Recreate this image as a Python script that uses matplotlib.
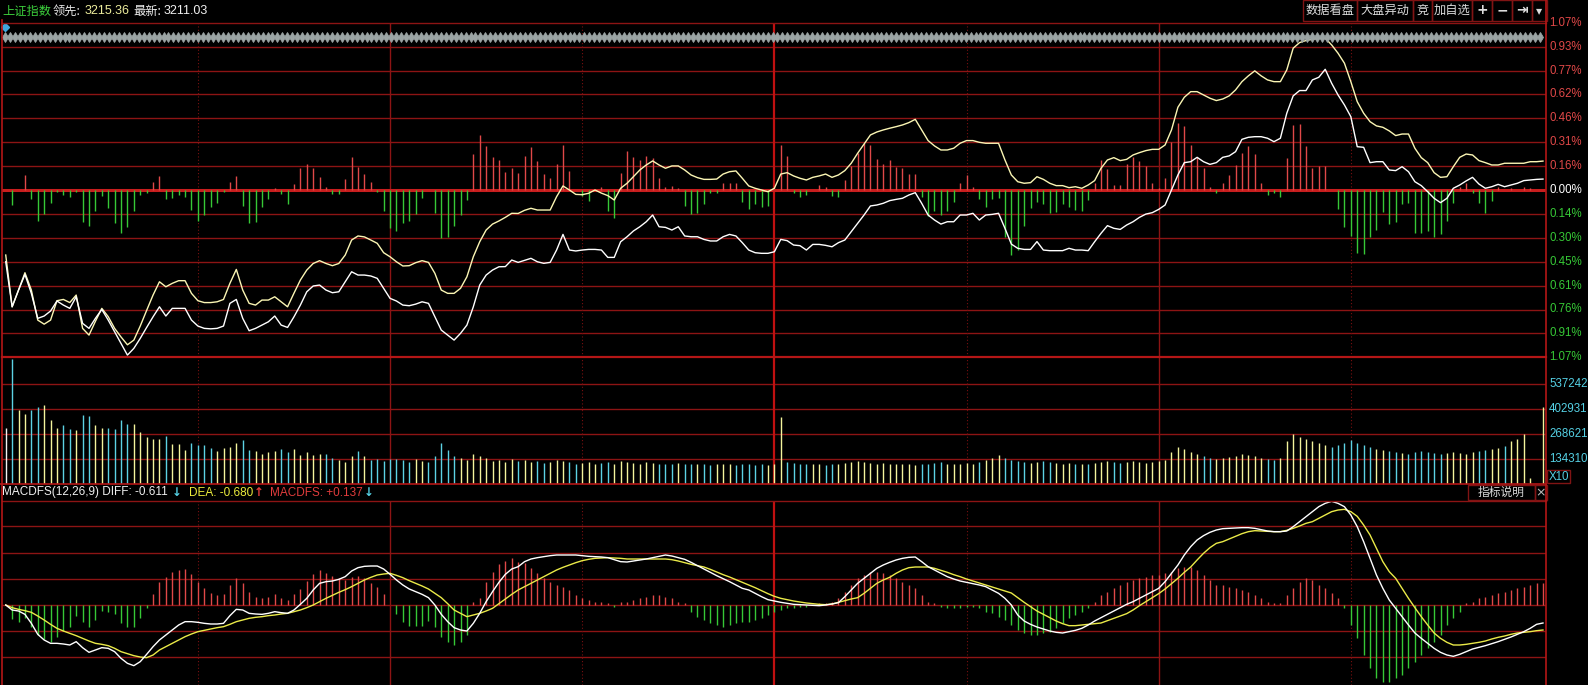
import numpy as np
import matplotlib.pyplot as plt
from matplotlib.patches import Rectangle
from matplotlib.lines import Line2D
from matplotlib.transforms import blended_transform_factory as blend

plt.rcParams['font.family'] = ['Noto Sans CJK SC', 'DejaVu Sans']

# ---- data (one value per minute, 9:30 .. 15:00) ----
# 领先指标 line, % change
lead_pct = [
    -0.416, -0.747, -0.64, -0.529, -0.64, -0.832, -0.858, -0.832, -0.708, -0.70,
    -0.72, -0.672, -0.885, -0.928, -0.84, -0.757, -0.81, -0.885, -0.94, -0.99,
    -0.96, -0.87, -0.77, -0.672, -0.587, -0.619, -0.597, -0.58, -0.58, -0.661,
    -0.708, -0.72, -0.72, -0.715, -0.70, -0.597, -0.508, -0.64, -0.725, -0.736,
    -0.704, -0.704, -0.683, -0.715, -0.747, -0.66, -0.576, -0.512, -0.47, -0.452,
    -0.47, -0.484, -0.47, -0.416, -0.32, -0.294, -0.30, -0.32, -0.341, -0.401,
    -0.427, -0.459, -0.486, -0.484, -0.465, -0.452, -0.463, -0.533, -0.64, -0.661,
    -0.661, -0.629, -0.555, -0.427, -0.331, -0.256, -0.218, -0.198, -0.175, -0.149,
    -0.15, -0.13, -0.117, -0.128, -0.128, -0.128, -0.043, 0.026, 0.0, -0.028,
    -0.03, -0.021, 0.0, -0.02, -0.036, -0.064, 0.011, 0.043, 0.085, 0.128,
    0.16, 0.186, 0.16, 0.139, 0.154, 0.154, 0.128, 0.096, 0.079, 0.068,
    0.068, 0.07, 0.102, 0.117, 0.122, 0.075, 0.026, 0.011, 0.0, -0.011,
    0.011, 0.102, 0.111, 0.09, 0.075, 0.064, 0.081, 0.09, 0.102, 0.081,
    0.096, 0.124, 0.171, 0.235, 0.294, 0.352, 0.371, 0.384, 0.395, 0.405,
    0.416, 0.431, 0.452, 0.384, 0.316, 0.282, 0.256, 0.256, 0.267, 0.299,
    0.316, 0.316, 0.305, 0.299, 0.299, 0.299, 0.192, 0.096, 0.053, 0.043,
    0.047, 0.085, 0.068, 0.043, 0.028, 0.028, 0.015, 0.021, 0.011, 0.032,
    0.06, 0.139, 0.192, 0.207, 0.188, 0.196, 0.224, 0.239, 0.252, 0.26,
    0.26, 0.288, 0.384, 0.529, 0.593, 0.629, 0.629, 0.608, 0.587, 0.572,
    0.582, 0.602, 0.64, 0.693, 0.73, 0.762, 0.73, 0.704, 0.693, 0.693,
    0.768, 0.907, 0.943, 0.956, 0.964, 0.971, 0.971, 0.928, 0.875, 0.811,
    0.693, 0.565, 0.491, 0.437, 0.41, 0.401, 0.378, 0.348, 0.358, 0.358,
    0.267, 0.207, 0.175, 0.111, 0.081, 0.085, 0.149, 0.209, 0.23, 0.224,
    0.188, 0.175, 0.16, 0.16, 0.171, 0.171, 0.171, 0.171, 0.181, 0.181,
    0.185,
]

# 上证指数 line, % change
index_pct = [
    -0.459, -0.747, -0.64, -0.54, -0.661, -0.821, -0.806, -0.774, -0.71, -0.736,
    -0.757, -0.683, -0.853, -0.885, -0.821, -0.764, -0.832, -0.907, -0.981, -1.056,
    -1.013, -0.949, -0.879, -0.811, -0.747, -0.806, -0.757, -0.757, -0.757, -0.832,
    -0.87, -0.885, -0.888, -0.885, -0.87, -0.725, -0.70, -0.821, -0.90, -0.885,
    -0.864, -0.843, -0.806, -0.864, -0.879, -0.811, -0.736, -0.651, -0.614, -0.608,
    -0.64, -0.657, -0.651, -0.587, -0.523, -0.544, -0.544, -0.55, -0.565, -0.629,
    -0.693, -0.71, -0.736, -0.74, -0.73, -0.715, -0.725, -0.811, -0.896, -0.928,
    -0.96, -0.917, -0.864, -0.747, -0.608, -0.544, -0.512, -0.491, -0.49, -0.448,
    -0.463, -0.45, -0.437, -0.459, -0.469, -0.463, -0.384, -0.284, -0.384, -0.39,
    -0.384, -0.38, -0.38, -0.384, -0.431, -0.431, -0.331, -0.299, -0.262, -0.235,
    -0.203, -0.16, -0.235, -0.239, -0.256, -0.235, -0.294, -0.299, -0.299, -0.316,
    -0.326, -0.326, -0.299, -0.284, -0.294, -0.337, -0.384, -0.401, -0.405, -0.405,
    -0.395, -0.316, -0.324, -0.352, -0.356, -0.384, -0.348, -0.348, -0.354, -0.363,
    -0.337, -0.32, -0.267, -0.213, -0.16, -0.102, -0.096, -0.085, -0.068, -0.06,
    -0.053, -0.032, -0.017, -0.085, -0.16, -0.192, -0.218, -0.203, -0.203, -0.16,
    -0.16, -0.149, -0.192, -0.16, -0.156, -0.149, -0.245, -0.346, -0.373, -0.38,
    -0.38, -0.33, -0.384, -0.388, -0.388, -0.388, -0.373, -0.384, -0.384, -0.388,
    -0.331, -0.277, -0.228, -0.245, -0.252, -0.224, -0.203, -0.175, -0.154, -0.145,
    -0.124, -0.096, 0.0, 0.096, 0.175, 0.181, 0.209, 0.181, 0.164, 0.175,
    0.209, 0.218, 0.245, 0.324, 0.337, 0.341, 0.341, 0.331, 0.309, 0.331,
    0.491, 0.602, 0.636, 0.636, 0.704, 0.721, 0.772, 0.683, 0.608, 0.544,
    0.469, 0.277, 0.273, 0.175, 0.181, 0.181, 0.128, 0.124, 0.149, 0.117,
    0.053, 0.028, -0.011, -0.053, -0.081, -0.053, 0.011, 0.032, 0.058, 0.081,
    0.038, 0.011, 0.021, 0.036, 0.021, 0.032, 0.043, 0.06, 0.064, 0.068,
    0.07,
]

# red / green strength bars in the price panel
lead_bar = [
    0, -0.096, 0, 0.096, -0.055, -0.196, -0.156, -0.081, -0.011, -0.032,
    -0.043, -0.011, -0.203, -0.23, -0.132, -0.038, -0.113, -0.209, -0.273, -0.235,
    -0.132, -0.03, -0.021, 0.053, 0.09, -0.058, -0.049, -0.032, -0.043, -0.128,
    -0.196, -0.158, -0.107, -0.081, -0.013, 0.053, 0.09, -0.102, -0.209, -0.203,
    -0.107, -0.058, 0.011, -0.028, -0.09, 0.038, 0.139, 0.166, 0.139, 0.081,
    0.021, -0.026, -0.028, 0.07, 0.209, 0.149, 0.102, 0.053, -0.013, -0.132,
    -0.241, -0.26, -0.213, -0.196, -0.156, -0.053, 0, -0.149, -0.309, -0.299,
    -0.23, -0.16, -0.064, 0.23, 0.352, 0.282, 0.209, 0.192, 0.117, 0.139,
    0.107, 0.218, 0.277, 0.186, 0.102, 0.075, 0.166, 0.288, 0.124, 0,
    -0.036, -0.068, 0, 0.017, -0.132, -0.177, 0.107, 0.252, 0.213, 0.192,
    0.218, 0.203, 0.079, 0.017, 0.026, 0.011, -0.102, -0.156, -0.149, -0.09,
    -0.017, -0.017, 0.047, 0.047, 0.047, -0.075, -0.122, -0.09, -0.111, -0.102,
    0, 0.288, 0.22, -0.017, -0.043, -0.032, 0, 0.032, 0.017, -0.038,
    -0.047, 0.064, 0.154, 0.239, 0.299, 0.288, 0.198, 0.166, 0.192, 0.149,
    0.139, 0.102, 0.102, -0.043, -0.166, -0.134, -0.16, -0.132, -0.075, 0.043,
    0.096, 0.017, -0.06, -0.111, -0.06, -0.053, -0.299, -0.416, -0.384, -0.23,
    -0.117, -0.075, -0.09, -0.149, -0.139, -0.09, -0.111, -0.128, -0.132, -0.064,
    0.043, 0.192, 0.132, 0.032, 0.032, 0.166, 0.209, 0.188, 0.154, 0.047,
    0.015, 0.075, 0.309, 0.427, 0.41, 0.288, 0.213, 0.143, 0.021, -0.017,
    0.047, 0.096, 0.16, 0.239, 0.282, 0.228, 0.047, -0.032, -0.021, -0.043,
    0.203, 0.416, 0.422, 0.282, 0.139, 0.154, 0.154, 0, -0.124, -0.239,
    -0.294, -0.401, -0.41, -0.299, -0.256, -0.139, -0.218, -0.203, -0.092, -0.085,
    -0.277, -0.277, -0.26, -0.303, -0.282, -0.196, -0.085, 0.021, 0.043, -0.021,
    -0.081, -0.145, -0.068, 0.021, 0, 0.011, 0, 0.021, 0.011, 0,
    0,
]

# volume per minute, thousands (axis shown X10)
vol_k = [
    299, 671, 397, 376, 397, 412, 424, 344, 299, 317,
    294, 290, 371, 365, 317, 299, 302, 294, 344, 322,
    322, 278, 254, 240, 240, 258, 215, 215, 183, 222,
    210, 210, 192, 179, 195, 200, 222, 236, 183, 179,
    161, 174, 179, 188, 174, 188, 156, 170, 156, 161,
    161, 138, 129, 116, 150, 177, 150, 129, 134, 124,
    134, 134, 130, 120, 135, 125, 120, 150, 220, 185,
    150, 140, 130, 160, 150, 140, 125, 130, 120, 135,
    125, 130, 120, 125, 115, 120, 130, 125, 120, 110,
    115, 120, 110, 115, 120, 110, 125, 120, 115, 110,
    120, 115, 110, 105, 110, 115, 110, 105, 110, 105,
    100, 105, 110, 105, 100, 110, 105, 100, 105, 100,
    110, 358, 120, 115, 110, 105, 110, 105, 100, 105,
    110, 115, 120, 125, 120, 115, 110, 115, 110, 105,
    110, 105, 100, 105, 110, 115, 120, 110, 105, 110,
    115, 110, 120, 130, 140, 156, 140, 130, 125, 120,
    115, 120, 125, 120, 115, 110, 115, 110, 105, 110,
    115, 120, 125, 120, 115, 120, 125, 120, 115, 120,
    125, 130, 170, 200, 190, 170, 160, 150, 140, 135,
    140, 145, 150, 160, 155, 150, 140, 135, 130, 140,
    230, 270, 250, 240, 230, 220, 210, 200, 210, 220,
    236, 220, 210, 200, 190, 180, 175, 170, 165, 160,
    170, 175, 170, 165, 160, 165, 170, 165, 160, 170,
    175, 180, 190, 195, 204, 231, 240, 267, 31, 0,
    415,
]

# MACDFS(12,26,9)
macd_bar = [
    0, -0.42, -0.52, -0.40, -0.65, -0.9, -1.02, -1.1, -0.95, -0.78,
    -0.65, -0.32, -0.52, -0.65, -0.45, -0.18, -0.22, -0.28, -0.53, -0.65,
    -0.65, -0.40, -0.08, 0.33, 0.70, 0.85, 0.98, 1.05, 1.08, 0.92,
    0.68, 0.52, 0.35, 0.30, 0.32, 0.6, 0.82, 0.65, 0.38, 0.25,
    0.22, 0.25, 0.32, 0.22, 0.15, 0.32, 0.48, 0.72, 0.93, 1.05,
    0.95, 0.88, 0.8, 0.75, 0.85, 0.88, 0.8, 0.65, 0.55, 0.32,
    0, -0.28, -0.52, -0.62, -0.62, -0.62, -0.48, -0.65, -0.95, -1.1,
    -1.2, -1.1, -0.9, 0.08, 0.2, 0.68, 0.98, 1.22, 1.32, 1.4,
    1.3, 1.25, 1.1, 0.95, 0.8, 0.7, 0.6, 0.55, 0.45, 0.3,
    0.2, 0.15, 0.1, 0.08, 0.05, -0.05, 0.1, 0.1, 0.15, 0.2,
    0.25, 0.3, 0.3, 0.25, 0.2, 0.1, 0.05, -0.2, -0.35, -0.45,
    -0.55, -0.6, -0.65, -0.6, -0.55, -0.5, -0.5, -0.45, -0.4, -0.3,
    -0.2, -0.15, -0.1, -0.1, -0.05, -0.05, 0, 0.05, 0.05, 0.1,
    0.2, 0.4, 0.6, 0.8, 0.9, 1.0, 1.0, 0.95, 0.9, 0.8,
    0.7, 0.6, 0.5, 0.3, 0.1, 0.05, -0.05, -0.1, -0.1, -0.1,
    -0.05, -0.05, -0.1, -0.2, -0.25, -0.35, -0.45, -0.6, -0.75, -0.85,
    -0.9, -0.9, -0.85, -0.8, -0.7, -0.55, -0.4, -0.3, -0.2, -0.1,
    0.1, 0.3, 0.4, 0.5, 0.6, 0.7, 0.75, 0.8, 0.85, 0.9,
    0.9, 0.95, 1.0, 1.1, 1.15, 1.15, 1.05, 0.9, 0.75, 0.6,
    0.6, 0.55, 0.5, 0.45, 0.4, 0.3, 0.2, 0.1, 0.05, 0.05,
    0.3, 0.5, 0.7, 0.8, 0.75, 0.6, 0.5, 0.35, 0.2, -0.1,
    -0.6, -1.0, -1.5, -1.9, -2.2, -2.3, -2.3, -2.2, -2.1, -1.9,
    -1.7, -1.5, -1.3, -1.1, -0.9, -0.6, -0.4, -0.2, 0.05, 0.1,
    0.2, 0.25, 0.3, 0.35, 0.4, 0.45, 0.5, 0.55, 0.6, 0.65,
    0.65,
]

diff = [
    0, -0.15, -0.18, -0.28, -0.55, -0.88, -1.05, -1.15, -1.15, -1.17,
    -1.2, -1.1, -1.28, -1.42, -1.35, -1.28, -1.3, -1.4, -1.6, -1.75,
    -1.82, -1.7, -1.48, -1.25, -1.05, -0.9, -0.75, -0.6, -0.5, -0.5,
    -0.52, -0.55, -0.57, -0.57, -0.55, -0.32, -0.13, -0.15, -0.25, -0.27,
    -0.28, -0.25, -0.2, -0.23, -0.25, -0.15, 0.02, 0.2, 0.45, 0.65,
    0.7, 0.72, 0.77, 0.85, 1.02, 1.12, 1.16, 1.17, 1.17, 1.08,
    0.92, 0.75, 0.6, 0.48, 0.4, 0.32, 0.22, 0, -0.28, -0.5,
    -0.68, -0.75, -0.78, -0.55, -0.25, 0.1, 0.4, 0.68, 0.92, 1.08,
    1.15, 1.3, 1.38, 1.42, 1.45, 1.48, 1.5, 1.5, 1.5, 1.5,
    1.48, 1.46, 1.45, 1.44, 1.42, 1.36, 1.3, 1.29, 1.32, 1.35,
    1.38, 1.42, 1.46, 1.5, 1.47, 1.42, 1.37, 1.28, 1.18, 1.08,
    0.98, 0.88, 0.79, 0.7, 0.6, 0.5, 0.45, 0.35, 0.25, 0.16,
    0.12, 0.08, 0.05, 0.02, 0.01, 0, -0.01, -0.02, 0, 0.03,
    0.07, 0.25, 0.45, 0.65, 0.8, 0.95, 1.1, 1.2, 1.28, 1.35,
    1.4, 1.43, 1.44, 1.3, 1.15, 1.05, 0.95, 0.85, 0.78, 0.72,
    0.68, 0.64, 0.6, 0.55, 0.45, 0.35, 0.2, 0, -0.3, -0.48,
    -0.58, -0.66, -0.72, -0.78, -0.82, -0.84, -0.8, -0.76, -0.7, -0.6,
    -0.48, -0.38, -0.28, -0.18, -0.08, 0.02, 0.1, 0.2, 0.3, 0.4,
    0.5, 0.7, 0.95, 1.2, 1.5, 1.75, 1.95, 2.08, 2.18, 2.25,
    2.29, 2.3, 2.31, 2.32, 2.32, 2.3, 2.26, 2.22, 2.2, 2.2,
    2.22, 2.35, 2.5, 2.65, 2.8, 2.95, 3.05, 3.11, 3.05, 2.95,
    2.7, 2.35, 1.9, 1.4, 0.9, 0.5, 0.15, -0.1, -0.35, -0.6,
    -0.84, -1.0, -1.15, -1.3, -1.42, -1.5, -1.54, -1.48, -1.4, -1.32,
    -1.27, -1.22, -1.16, -1.1, -1.03, -0.96, -0.88, -0.8, -0.7, -0.58,
    -0.54,
]

dea = [
    0, -0.08, -0.13, -0.17, -0.22, -0.33, -0.45, -0.58, -0.7, -0.78,
    -0.85, -0.92, -1.0, -1.08, -1.15, -1.18, -1.22, -1.3, -1.4, -1.46,
    -1.52, -1.56, -1.58, -1.5, -1.35, -1.25, -1.15, -1.05, -0.95, -0.87,
    -0.8, -0.76, -0.72, -0.68, -0.65, -0.58, -0.5, -0.45, -0.4, -0.37,
    -0.35, -0.32, -0.3, -0.27, -0.25, -0.2, -0.15, -0.08, 0, 0.1,
    0.2, 0.29, 0.38, 0.46, 0.55, 0.65, 0.75, 0.83, 0.9, 0.93,
    0.95, 0.89, 0.82, 0.73, 0.65, 0.57, 0.48, 0.35, 0.22, 0.04,
    -0.15, -0.25, -0.35, -0.3, -0.25, -0.18, -0.1, 0.04, 0.18, 0.32,
    0.45, 0.55, 0.65, 0.75, 0.85, 0.95, 1.05, 1.13, 1.2, 1.27,
    1.33, 1.37, 1.4, 1.41, 1.42, 1.41, 1.4, 1.38, 1.38, 1.38,
    1.38, 1.38, 1.38, 1.38, 1.36, 1.32, 1.27, 1.22, 1.18, 1.14,
    1.07, 0.99, 0.91, 0.84, 0.76, 0.68, 0.6, 0.52, 0.43, 0.34,
    0.26, 0.2, 0.16, 0.12, 0.09, 0.06, 0.04, 0.02, 0.01, 0.03,
    0.08, 0.13, 0.18, 0.22, 0.35, 0.5, 0.65, 0.75, 0.83, 0.95,
    1.05, 1.12, 1.14, 1.14, 1.14, 1.1, 1.04, 0.98, 0.91, 0.85,
    0.78, 0.72, 0.66, 0.6, 0.54, 0.48, 0.42, 0.36, 0.22, 0.08,
    -0.05, -0.18, -0.28, -0.38, -0.48, -0.56, -0.62, -0.62, -0.6, -0.58,
    -0.56, -0.54, -0.47, -0.4, -0.33, -0.26, -0.15, -0.02, 0.1, 0.22,
    0.34, 0.48, 0.64, 0.8, 0.98, 1.14, 1.35, 1.55, 1.72, 1.85,
    1.9, 1.98, 2.06, 2.14, 2.2, 2.23, 2.22, 2.21, 2.2, 2.2,
    2.24, 2.3, 2.37, 2.45, 2.5, 2.6, 2.7, 2.8, 2.85, 2.87,
    2.8, 2.66, 2.4, 2.1, 1.7, 1.3, 1.0, 0.8, 0.5, 0.2,
    -0.08, -0.35, -0.6, -0.84, -1.0, -1.12, -1.2, -1.2, -1.18, -1.15,
    -1.12, -1.08, -1.02, -0.97, -0.93, -0.88, -0.84, -0.82, -0.8, -0.77,
    -0.75,
]

pct_labels = ['1.07%', '0.93%', '0.77%', '0.62%', '0.46%', '0.31%', '0.16%', '0.00%',
              '0.14%', '0.30%', '0.45%', '0.61%', '0.76%', '0.91%', '1.07%']
vol_labels = ['537242', '402931', '268621', '134310']
buttons = ['数据看盘', '大盘异动', '竞', '加自选', '+', '−', '⇥', '▾']

# ---- look ----
W, H = 1588, 685
BG = 'black'
GRID = '#8c1414'
FRAME = '#b41616'
RED = '#e04848'
GREEN = '#36c836'
CYAN = '#55d0e4'
NUM = ['Liberation Sans', 'DejaVu Sans']
XL, XR = 1.5, 1546.0
XLIM = (-0.66, 240.47)

t = np.arange(len(index_pct))


def fx(px):
    return px / W


def fy(py):
    return 1 - py / H


def panel(y_top, y_bot):
    ax = fig.add_axes([fx(XL), fy(y_bot), (XR - XL) / W, (y_bot - y_top) / H])
    ax.set_facecolor(BG)
    ax.set_xlim(*XLIM)
    ax.set_xticks([])
    ax.set_yticks([])
    for s in ax.spines.values():
        s.set_visible(False)
    return ax


def time_lines(ax):
    for m in (30, 90, 150, 210):
        ax.axvline(m, color='#7a1010', lw=0.8, ls=(0, (1, 2)), zorder=1)
    for m in (60, 180):
        ax.axvline(m, color=GRID, lw=1.0, zorder=1)
    ax.axvline(120, color='#c01010', lw=1.6, zorder=1)


def hline(y, x0, x1, color, lw):
    fig.add_artist(Line2D([fx(x0), fx(x1)], [fy(y), fy(y)], color=color, lw=lw))


def vline(x, y0, y1, color, lw):
    fig.add_artist(Line2D([fx(x), fx(x)], [fy(y0), fy(y1)], color=color, lw=lw))


def box(x0, y0, x1, y1, color='#801414'):
    fig.add_artist(Rectangle((fx(x0), fy(y1)), (x1 - x0) / W, (y1 - y0) / H,
                             fill=False, ec=color, lw=1.0, transform=fig.transFigure))


fig = plt.figure(figsize=(W / 100, H / 100), dpi=100, facecolor=BG)

# ---- price panel ----
ax = panel(22.7, 357.3)
ax.set_ylim(-1.07, 1.07)
levels = np.linspace(-1.07, 1.07, 15)
for v in levels[1:-1]:
    if abs(v) > 1e-9:
        ax.axhline(v, color=GRID, lw=1.0, zorder=1)
time_lines(ax)
ax.axhline(0, color='#c81e1e', lw=2.2, zorder=2)
ax.vlines(t, 0, lead_bar, colors=[RED if v > 0 else GREEN for v in lead_bar], lw=1.0, zorder=3)
ax.plot(t, lead_pct, color='#fbf6b4', lw=1.0, zorder=4)
ax.plot(t, index_pct, color='white', lw=1.0, zorder=5)

tr = blend(ax.transAxes, ax.transData)
for i, (v, lab) in enumerate(zip(levels[::-1], pct_labels)):
    c = RED if i < 7 else ('white' if i == 7 else GREEN)
    ax.text(1.002, v, lab, transform=tr, color=c, fontsize=8.3, family=NUM,
            va='center', ha='left', clip_on=False)

# diamond strip and marker at the top
trd = blend(ax.transData, ax.transAxes)
strip = np.arange(-0.1, 240.0, 0.773)
ax.plot(strip, np.full(len(strip), 0.956), transform=trd, ls='none', marker='d',
        ms=5.2, color='#9ba4a4', mec='#9ba4a4', mew=0.6, clip_on=False, zorder=6)
ax.plot([-0.1], [0.987], transform=trd, ls='none', marker='D', ms=4.5,
        color='#3fa6dc', clip_on=False, zorder=6)

# ---- volume panel ----
axv = panel(357.3, 484)
VSTEP = 134310.5
axv.set_ylim(0, VSTEP * 5 * (484 - 357.3) / 125)
for k in range(1, 5):
    axv.axhline(k * VSTEP, color=GRID, lw=1.0, zorder=1)
time_lines(axv)
vol_colors = ['#f2f2f2'] + ['#f4f49c' if index_pct[i] >= index_pct[i - 1] else '#5cd2e4'
                            for i in range(1, len(index_pct))]
axv.vlines(t, 0, np.array(vol_k) * 1000, colors=vol_colors, lw=1.0, zorder=3)
trv = blend(axv.transAxes, axv.transData)
for k, lab in zip((4, 3, 2, 1), vol_labels):
    axv.text(1.002, k * VSTEP, lab, transform=trv, color=CYAN, fontsize=8.3,
             family=NUM, va='center', ha='left', clip_on=False)

# ---- MACD panel ----
axm = panel(501, 685)
G = 0.786
axm.set_ylim(-(685 - 605) * 0.03, (605 - 501) * 0.03)
for k in (-2, -1, 0, 1, 2, 3):
    axm.axhline(k * G, color=GRID, lw=1.0, zorder=1)
time_lines(axm)
axm.vlines(t, 0, macd_bar, colors=[RED if v > 0 else GREEN for v in macd_bar], lw=1.0, zorder=3)
axm.plot(t, dea, color='#eaea48', lw=1.0, zorder=4)
axm.plot(t, diff, color='white', lw=1.0, zorder=5)

# ---- frame ----
hline(22.7, XL, XR, GRID, 1.0)
hline(357.3, XL, XR, FRAME, 1.6)
hline(484, 0, XR, FRAME, 1.2)
hline(501, XL, XR, GRID, 1.0)
vline(XL, 20, 685, FRAME, 1.2)
vline(XR, 0, 685, FRAME, 1.2)

# ---- header texts ----
ty = fy(11)
fig.text(fx(2), ty, '上证指数', color='#3ccf3c', fontsize=8.8, va='center')
fig.text(fx(53), ty, '领先:', color='#e6e6e6', fontsize=8.8, va='center')
fig.text(fx(85), ty, '3215.36', color='#ecec9c', fontsize=9, family=NUM, va='center')
fig.text(fx(133), ty, '最新:', color='#f0f0f0', fontsize=8.8, va='center')
fig.text(fx(164), ty, '3211.03', color='#f0f0f0', fontsize=9, family=NUM, va='center')

edges = [1303, 1357, 1413, 1432, 1472, 1492, 1512, 1532, 1547]
for lab, x0, x1 in zip(buttons, edges[:-1], edges[1:]):
    box(x0, 0, x1, 21)
    bold = lab in ('+', '−', '⇥')
    fig.text(fx((x0 + x1) / 2), fy(10.5), lab, color='#dcdcdc', fontsize=8.8 if not bold else 10,
             fontweight='bold' if bold else 'normal', ha='center', va='center',
             family=['Noto Sans CJK SC', 'DejaVu Sans'] if not bold else ['DejaVu Sans'])

# ---- MACD header ----
my = fy(492.5)
fig.text(fx(2), my, 'MACDFS(12,26,9) DIFF: -0.611', color='#f0f0f0', fontsize=8.5, family=NUM, va='center')
fig.text(fx(172), my, '↓', color=CYAN, fontsize=8.5, family=['DejaVu Sans'], fontweight='bold', va='center')
fig.text(fx(189), my, 'DEA: -0.680', color='#ecec3c', fontsize=8.5, family=NUM, va='center')
fig.text(fx(254), my, '↑', color='#e23c3c', fontsize=8.5, family=['DejaVu Sans'], fontweight='bold', va='center')
fig.text(fx(270), my, 'MACDFS: +0.137', color='#e23c3c', fontsize=8.5, family=NUM, va='center')
fig.text(fx(364), my, '↓', color=CYAN, fontsize=8.5, family=['DejaVu Sans'], fontweight='bold', va='center')

box(1468, 485, 1535, 500)
fig.text(fx(1501.5), fy(492.5), '指标说明', color='#d8d8d8', fontsize=8.5, ha='center', va='center')
box(1535, 485, 1547, 500)
fig.text(fx(1541), fy(492.5), '×', color='#bdbdbd', fontsize=9, family=['DejaVu Sans'], ha='center', va='center')

box(1547, 470, 1570, 483)
fig.text(fx(1558.5), fy(476.5), 'X10', color=CYAN, fontsize=8.3, family=NUM, ha='center', va='center')

fig.savefig('out.png', dpi=100, facecolor=BG)
